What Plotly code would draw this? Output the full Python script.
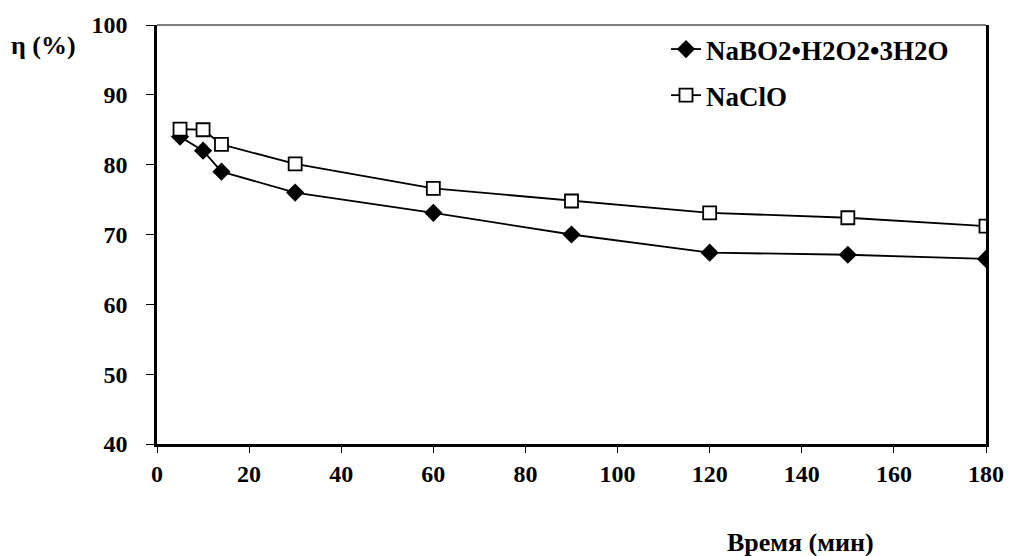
import plotly.graph_objects as go

# Time points (min) and efficiency η (%) for each oxidant
time_min = [5, 10, 14, 30, 60, 90, 120, 150, 180]
eta_perborate = [84, 82, 79, 76, 73.1, 70, 67.4, 67.1, 66.5]
eta_hypochlorite = [85.1, 85, 82.9, 80.1, 76.6, 74.8, 73.1, 72.4, 71.2]

series_names = ["NaBO2•H2O2•3H2O", "NaClO"]
x_ticks = [0, 20, 40, 60, 80, 100, 120, 140, 160, 180]
y_ticks = [40, 50, 60, 70, 80, 90, 100]

FONT = "Liberation Serif"
tick_font = dict(family=FONT, size=24, color="black")
legend_font = dict(family=FONT, size=27, color="black")
title_font = dict(family=FONT, size=26, color="black")

fig = go.Figure()
fig.add_trace(go.Scatter(
    x=time_min, y=eta_perborate, name="<b>" + series_names[0] + "</b>",
    mode="lines+markers", legendgroup="a",
    line=dict(color="black", width=1.8),
    marker=dict(symbol="diamond", size=14, color="black"),
))
fig.add_trace(go.Scatter(
    x=time_min, y=eta_hypochlorite, name="<b>" + series_names[1] + "</b>",
    mode="lines+markers", legendgroup="b",
    line=dict(color="black", width=1.8),
    marker=dict(symbol="square", size=13, color="white",
                line=dict(color="black", width=1.8)),
))

fig.update_layout(
    width=1016, height=556,
    margin=dict(l=157, r=24, t=19, b=112),
    paper_bgcolor="white", plot_bgcolor="white",
    showlegend=True,
    legend=dict(x=0.614, y=1.0, xanchor="left", yanchor="top",
                bgcolor="rgba(0,0,0,0)", font=legend_font,
                itemwidth=30, tracegroupgap=8),
    xaxis=dict(range=[0, 180], tickvals=x_ticks,
               ticktext=[f"<b>{v}</b>" for v in x_ticks],
               showgrid=False, zeroline=False,
               showline=True, linecolor="black", linewidth=2.5,
               ticks="outside", ticklen=6, tickcolor="black", tickwidth=1,
               tickfont=tick_font),
    yaxis=dict(range=[40, 100], tickvals=y_ticks,
               ticktext=[f"<b>{v}</b>" for v in y_ticks],
               showgrid=False, zeroline=False,
               showline=True, linecolor="black", linewidth=2.5, mirror=True,
               ticks="outside", ticklen=8, tickcolor="black", tickwidth=1,
               ticklabelstandoff=14, tickfont=tick_font),
    shapes=[dict(type="line", xref="paper", yref="paper", x0=0, x1=1, y0=1, y1=1,
                 line=dict(color="#555555", width=1.5))],
    annotations=[
        dict(text="<b>η (%)</b>", xref="paper", yref="paper", x=-0.178, y=0.95,
             xanchor="left", yanchor="middle", showarrow=False, font=title_font),
        dict(text="<b>Время (мин)</b>", xref="paper", yref="paper", x=0.776, y=-0.235,
             xanchor="center", yanchor="middle", showarrow=False, font=title_font),
    ],
)

fig.write_html("out.html")
